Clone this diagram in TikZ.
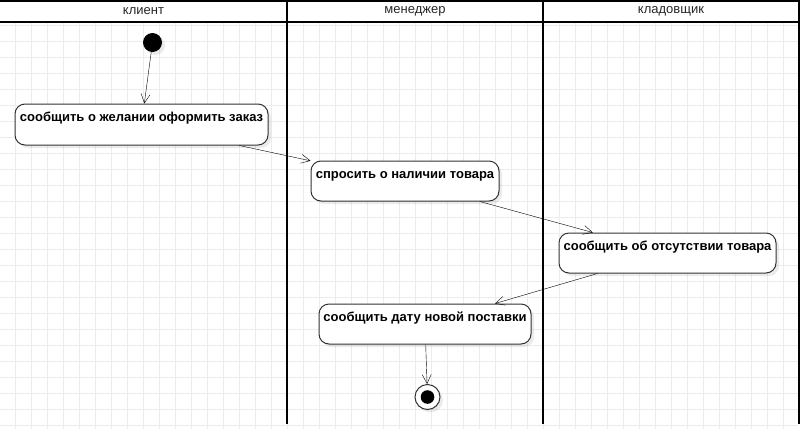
\documentclass[tikz,border=0pt]{standalone}
\usepackage{fontspec}
\setmainfont{Liberation Sans}
\usetikzlibrary{arrows.meta, positioning, shadows}
\definecolor{gridcolor}{RGB}{236,236,236}
\definecolor{boxcolor}{RGB}{51,51,51}

\begin{document}
\begin{tikzpicture}[x=1pt, y=-1pt, >={Straight Barb[length=9pt,width=9pt]},
		base/.style = {draw=boxcolor, fill=white, line width=1pt, drop shadow={fill=black, opacity=0.08, shadow xshift=3pt, shadow yshift=-3pt}},
		act/.style = {rectangle, rounded corners=10pt, base, inner sep=0pt, text height=17.5pt, text depth=22.5pt, font=\bfseries\fontsize{13}{15}\selectfont},
		start/.style = {circle, fill=black, minimum size=19pt, inner sep=0pt, drop shadow={fill=black, opacity=0.08, shadow xshift=3pt, shadow yshift=-3pt}},
		stop/.style = {circle, base, minimum size=25pt, inner sep=0pt, path picture={\fill[black] (path picture bounding box.center) circle (6.8pt);}},
		lane/.style = {line width=2pt},
		title/.style = {font=\fontsize{13}{15}\selectfont, text=black!85}
		]
		\useasboundingbox (0,0) rectangle (801,429);
		% grid
		\foreach \x in {15.5,31.5,...,799} \draw[gridcolor] (\x,22) -- (\x,429);
		\foreach \y in {25,41,...,429} \draw[gridcolor] (0,\y) -- (798,\y);
		
		% swimlanes
		\draw[lane] (0,1) -- (800,1);
		\draw[lane] (0,22) -- (800,22);
		\draw[lane] (287,0) -- (287,424);
		\draw[lane] (543,0) -- (543,424);
		\draw[lane] (799,0) -- (799,424);
		\node (L1) [title] at (143.5,11.5) {клиент};
		\node (L2) [title] at (415,11.5) {менеджер};
		\node (L3) [title] at (671,11.5) {кладовщик};
		
		\node (S) [start] at (152.5,42.5) {};
		\node (A) [act, minimum width=253pt, text depth=23.5pt] at (141.5,124.5) {сообщить о желании оформить заказ};
		\node (B) [act, minimum width=188pt] at (405,181) {спросить о наличии товара};
		\node (C) [act, minimum width=217pt] at (667.5,253) {сообщить об отсутствии товара};
		\node (D) [act, minimum width=212pt] at (425,324) {сообщить дату новой поставки};
		\node (E) [stop] at (427.5,397) {};
		
		\draw[->] (S) -- (A);
		\draw[->] (A) -- (B);
		\draw[->] (B) -- (C);
		\draw[->] (C) -- (D);
		\draw[->] (D) -- (E);
	\end{tikzpicture}
\end{document}
